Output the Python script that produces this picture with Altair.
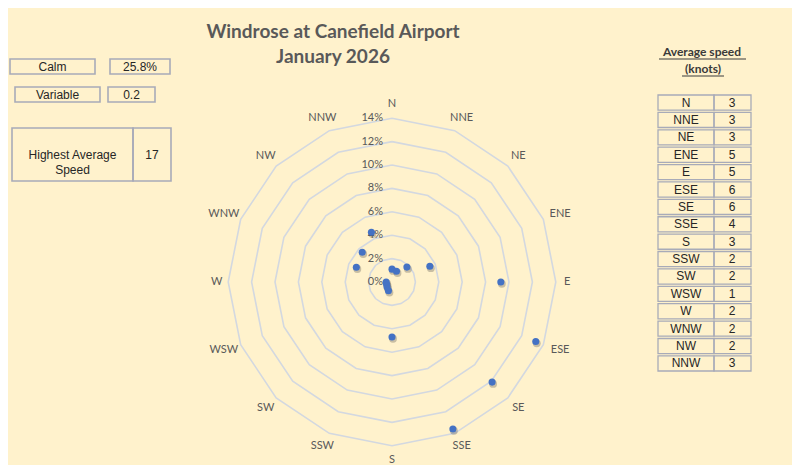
import altair as alt
import pandas as pd

# ---------------- data ----------------
directions = ["N", "NNE", "NE", "ENE", "E", "ESE", "SE", "SSE",
              "S", "SSW", "SW", "WSW", "W", "WNW", "NW", "NNW"]
frequency_pct = [1.1, 1.0, 1.8, 3.5, 9.3, 13.3, 12.1, 13.6,
                 4.7, 0.8, 0.6, 0.5, 0.5, 3.3, 3.6, 4.6]
avg_speed_knots = [3, 3, 3, 5, 5, 6, 6, 4, 3, 2, 2, 1, 2, 2, 2, 3]
ring_levels = [0, 2, 4, 6, 8, 10, 12, 14]
ring_labels = ["0%", "2%", "4%", "6%", "8%", "10%", "12%", "14%"]
info_labels = ["Calm", "Variable", "Highest Average Speed"]
info_values = ["25.8%", "0.2", "17"]
title_lines = ["Windrose at Canefield Airport", "January 2026"]
table_header = ["Average speed", "(knots)"]

# ---------------- style / layout ----------------
BG = "#FFF2CC"
TXT = "#595959"
DARK = "#262626"
GRID = "#D3D8E0"
BOX = "#A8ABB8"
BLUE = "#4472C4"
TITLE_FONT = "Lato"
CELL_FONT = "Liberation Sans"

H = 455
LEFT_W, RAD_W, RIGHT_W = 180, 408, 196
PX = 11.7            # pixels per percent
CX, CY = 204, 274    # radar centre inside its panel
GAP = 8.0            # label gap outside outer ring (px)

xs = alt.Scale(domain=[-CX / PX, (RAD_W - CX) / PX], nice=False, zero=False)
ys = alt.Scale(domain=[-(H - CY) / PX, CY / PX], nice=False, zero=False)

ANG = "datum.k * PI / 8"

# ---------------- radar panel ----------------
rings = pd.DataFrame([{"level": L, "k": k} for L in ring_levels if L > 0 for k in range(17)])
ring_layer = alt.Chart(rings).mark_line(color=GRID, strokeWidth=1.6).transform_calculate(
    px=f"datum.level * sin({ANG})", py=f"datum.level * cos({ANG})"
).encode(
    x=alt.X("px:Q", scale=xs, axis=None),
    y=alt.Y("py:Q", scale=ys, axis=None),
    detail="level:N",
    order="k:Q",
)

ring_lab_df = pd.DataFrame({"level": ring_levels, "lab": ring_labels})
ring_lab_layer = alt.Chart(ring_lab_df).mark_text(
    align="right", baseline="middle", dx=-9, font=TITLE_FONT, fontSize=11, color=TXT
).transform_calculate(z="0").encode(
    x=alt.X("z:Q", scale=xs, axis=None),
    y=alt.Y("level:Q", scale=ys, axis=None),
    text="lab:N",
)

dir_df = pd.DataFrame({"dir": directions, "k": list(range(16))})
dir_layer = alt.Chart(dir_df).mark_text(
    align="center", baseline="middle", font=TITLE_FONT, fontSize=11, color=TXT
).transform_calculate(
    lx=f"sin({ANG}) * ({ring_levels[-1]} + {GAP / PX}) + sin({ANG}) * length(datum.dir) * {3.4 / PX}",
    ly=f"cos({ANG}) * ({ring_levels[-1]} + {GAP / PX}) + cos({ANG}) * {6.0 / PX}",
).encode(
    x=alt.X("lx:Q", scale=xs, axis=None),
    y=alt.Y("ly:Q", scale=ys, axis=None),
    text="dir:N",
)

pts = pd.DataFrame({"dir": directions, "k": list(range(16)), "pct": frequency_pct})
shadow_layer = alt.Chart(pts).mark_circle(size=62, color="#3a3a3a", opacity=0.28).transform_calculate(
    px=f"datum.pct * sin({ANG}) + {1.0 / PX}", py=f"datum.pct * cos({ANG}) - {1.8 / PX}"
).encode(
    x=alt.X("px:Q", scale=xs, axis=None),
    y=alt.Y("py:Q", scale=ys, axis=None),
)
pt_layer = alt.Chart(pts).mark_circle(size=50, color=BLUE, opacity=1).transform_calculate(
    px=f"datum.pct * sin({ANG})", py=f"datum.pct * cos({ANG})"
).encode(
    x=alt.X("px:Q", scale=xs, axis=None),
    y=alt.Y("py:Q", scale=ys, axis=None),
    tooltip=["dir:N", "pct:Q"],
)

title_df = pd.DataFrame({"line": [0, 1], "t": title_lines})
title_pos = [(145, 24), (145, 49)]
title_layers = [
    alt.Chart(title_df).transform_filter(f"datum.line == {i}").mark_text(
        align="center", baseline="middle", font=TITLE_FONT, fontSize=19,
        fontWeight="bold", color=TXT
    ).encode(x=alt.value(tx), y=alt.value(ty), text="t:N")
    for i, (tx, ty) in enumerate(title_pos)
]

radar = alt.layer(
    ring_layer, ring_lab_layer, dir_layer, shadow_layer, pt_layer, *title_layers
).properties(width=RAD_W, height=H)

# ---------------- left info panel ----------------
info_box_layout = [
    ((2, 87, 51, 66), (102, 162, 51, 66)),
    ((7, 92, 79, 94), (100, 147, 79, 94)),
    ((4, 125, 120, 173), (125, 163, 120, 173)),
]
left_layers = []
for lab, val, (lb, vb) in zip(info_labels, info_values, info_box_layout):
    for txt, (x0, x1, y0, y1) in ((lab.replace("Average ", "Average\n"), lb), (val, vb)):
        d = pd.DataFrame({"t": [txt]})
        left_layers.append(
            alt.Chart(d).mark_rect(fillOpacity=0, stroke=BOX, strokeWidth=1.6).encode(
                x=alt.value(x0), x2=alt.value(x1), y=alt.value(y0), y2=alt.value(y1)
            )
        )
        left_layers.append(
            alt.Chart(d).mark_text(
                align="center", baseline="middle", font=CELL_FONT, fontSize=12,
                color=DARK, lineBreak="\n", lineHeight=15
            ).encode(x=alt.value((x0 + x1) / 2), y=alt.value((y0 + y1) / 2 + 0.5), text="t:N")
        )
left = alt.layer(*left_layers).properties(width=LEFT_W, height=H)

# ---------------- right table panel ----------------
tbl = pd.DataFrame({"dir": directions, "speed": avg_speed_knots})
ty = alt.Y("dir:N", sort=directions, axis=None,
           scale=alt.Scale(range=[87, 363], paddingInner=0.13, paddingOuter=0))
tbl_layers = [
    alt.Chart(tbl).mark_rect(fillOpacity=0, stroke=BOX, strokeWidth=1.3).encode(
        x=alt.value(62), x2=alt.value(118), y=ty),
    alt.Chart(tbl).mark_rect(fillOpacity=0, stroke=BOX, strokeWidth=1.3).encode(
        x=alt.value(118), x2=alt.value(155), y=ty),
    alt.Chart(tbl).mark_text(align="center", baseline="middle", font=CELL_FONT,
                             fontSize=12, color=DARK).encode(
        x=alt.value(90), y=ty, text="dir:N"),
    alt.Chart(tbl).mark_text(align="center", baseline="middle", font=CELL_FONT,
                             fontSize=12, color=DARK).encode(
        x=alt.value(136), y=ty, text="speed:Q"),
]
hdr_df = pd.DataFrame({"line": [0, 1], "t": table_header})
hdr_layout = [(106, 44, 63, 150, 51), (107, 61, 86, 128, 68)]
for i, (hx, hy, u0, u1, uy) in enumerate(hdr_layout):
    tbl_layers.append(
        alt.Chart(hdr_df).transform_filter(f"datum.line == {i}").mark_text(
            align="center", baseline="middle", font=TITLE_FONT, fontSize=12,
            fontWeight="bold", color="#3a3a3a"
        ).encode(x=alt.value(hx), y=alt.value(hy), text="t:N")
    )
    tbl_layers.append(
        alt.Chart(hdr_df).transform_filter(f"datum.line == {i}").mark_rule(
            color="#3a3a3a", strokeWidth=1
        ).encode(x=alt.value(u0), x2=alt.value(u1), y=alt.value(uy))
    )
right = alt.layer(*tbl_layers).properties(width=RIGHT_W, height=H)

chart = alt.hconcat(left, radar, right, spacing=0, bounds="flush").properties(
    padding={"left": 0, "top": 0, "right": 0, "bottom": 0}
).configure(background=BG).configure_view(stroke=None)

chart.save("out.html", embed_options={"renderer": "svg", "actions": False})
